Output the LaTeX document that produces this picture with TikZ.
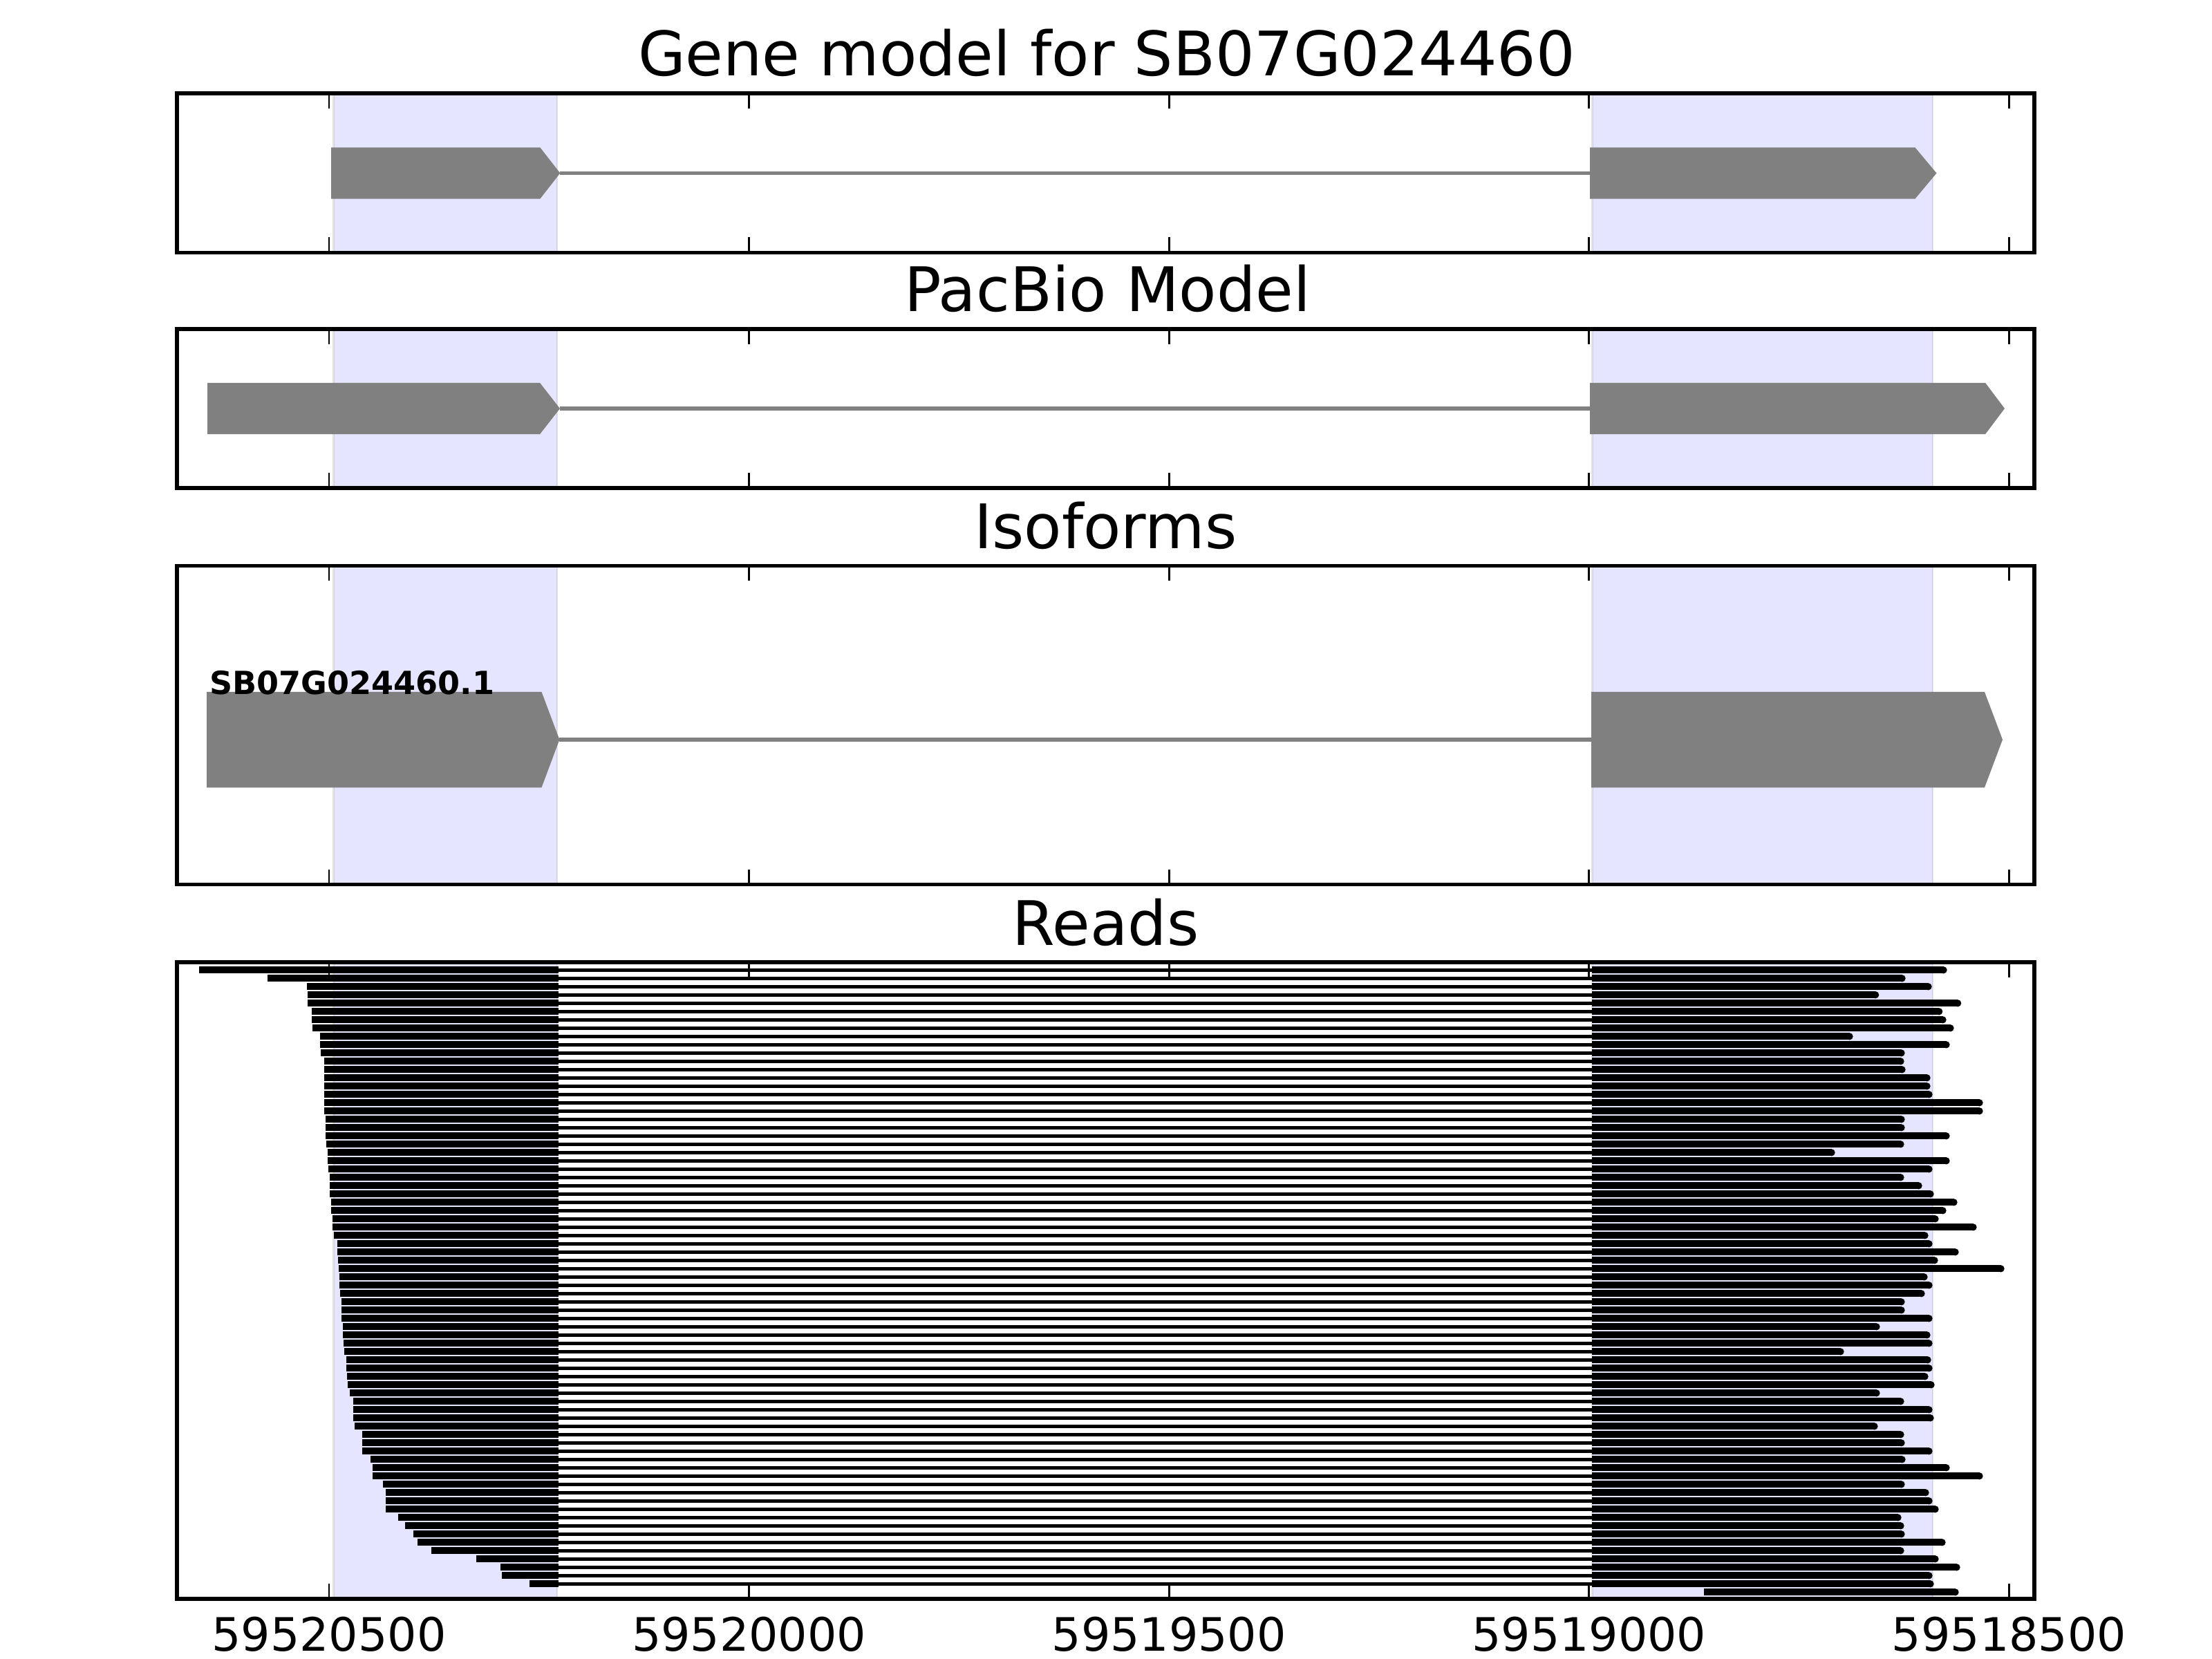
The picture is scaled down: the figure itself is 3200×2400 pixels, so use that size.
\documentclass[tikz,border=0pt]{standalone}
\usepackage{fontspec}
\setmainfont{DejaVu Sans}
\definecolor{genegray}{RGB}{128,128,128}
\definecolor{spanblue}{RGB}{229,229,255}
\def\px{0.180675pt}
\begin{document}
\begin{tikzpicture}[x=0.0025in,y=-0.0025in,
  spanfill/.style={fill=spanblue},
  spanedge/.style={draw=black,draw opacity=0.1,line width=2.8*\px},
  frameline/.style={draw=black,line width=5.5*\px},
  tickline/.style={draw=black,line width=2.8*\px},
  genefill/.style={fill=genegray},
  readfill/.style={fill=black},
  paneltitle/.style={anchor=base,inner sep=0,font=\fontsize{16bp}{19bp}\selectfont},
  ticklab/.style={anchor=base,inner sep=0,font=\fontsize{12bp}{14bp}\selectfont},
  isolab/.style={anchor=base west,inner sep=0,font=\fontsize{8.3bp}{10bp}\selectfont\bfseries}]
\useasboundingbox (0,0) rectangle (3200,2400);
\fill[white] (0,0) rectangle (3200,2400);
% exon spans
\foreach \t/\b in {135/365.5,476/706,818.5/1279.5,1392/2313}{
  \fill[spanfill] (482.5,\t) rectangle (806,\b);
  \fill[spanfill] (2303.5,\t) rectangle (2796,\b);
  \draw[spanedge] (482.5,\t) -- (482.5,\b);
  \draw[spanedge] (806,\t) -- (806,\b);
  \draw[spanedge] (2303.5,\t) -- (2303.5,\b);
  \draw[spanedge] (2796,\t) -- (2796,\b);
}
% gene model
\fill[genefill] (810,247.7) rectangle (2300.2,253.3);
\fill[genefill] (479,213.3) -- (781.3,213.3) -- (810.3,250.5) -- (781.3,287.7) -- (479,287.7) -- cycle;
\fill[genefill] (2300.2,213.3) -- (2770.4,213.3) -- (2801.5,250.5) -- (2770.4,287.7) -- (2300.2,287.7) -- cycle;
% PacBio model
\fill[genefill] (810,588.2) rectangle (2300.2,593.8);
\fill[genefill] (300,553.8) -- (781,553.8) -- (810,591) -- (781,628.2) -- (300,628.2) -- cycle;
\fill[genefill] (2300.2,553.8) -- (2872,553.8) -- (2900,591) -- (2872,628.2) -- (2300.2,628.2) -- cycle;
% isoform
\fill[genefill] (809,1067.2) rectangle (2302,1072.8);
\fill[genefill] (299.2,1001) -- (783.5,1001) -- (809.4,1070) -- (783.5,1139.3) -- (299.2,1139.3) -- cycle;
\fill[genefill] (2302,1001) -- (2871,1001) -- (2897,1070) -- (2871,1139.3) -- (2302,1139.3) -- cycle;
\node[isolab] (isolabel) at (302,1004) {SB07G024460.1};
% reads
\foreach \s/\e [count=\i] in {288.3/2816.7,387/2756.7,444.3/2794.7,445.3/2718.3,445.3/2837.3,451.3/2810.3,451.3/2815.7,452.3/2826.7,463.3/2680.7,463.3/2820.7,464.3/2755.7,469.3/2754.7,469.3/2756.7,469.3/2792.7,469.3/2792.7,469.3/2795.7,469.3/2868.7,469.3/2868.7,471.3/2755.7,471.3/2755.7,471.3/2820.7,472.3/2754.7,474.3/2654.7,474.3/2820.7,475.3/2795.7,477.3/2754.7,477.3/2780.7,477.3/2797.7,478.7/2831.7,479.3/2815.7,481.3/2804.7,481.3/2859.7,483.3/2789.7,488.3/2795.7,488.3/2833.7,489.3/2803.7,490.3/2899.7,491.3/2788.7,491/2795.7,492.3/2784.7,494/2755.7,494/2755.7,494/2795.7,496.3/2719.7,496.3/2792.7,497.3/2795.7,498.3/2667.7,501.3/2793.7,501.3/2795.7,502.3/2789.7,503.3/2798.7,506.3/2719.7,511.3/2754.7,511.3/2795.7,511.3/2797.7,513.3/2716.7,524.3/2754.7,524.3/2755.7,524.3/2795.7,536.3/2756.7,539.3/2820.7,539.3/2868.7,554.3/2755.7,558.3/2790.7,558.3/2795.7,558.3/2804.7,576.3/2750.7,586.3/2754.7,598.3/2755.7,604.3/2814.7,624.3/2754.7,689.3/2804.7,724.3/2835.7,726.3/2795.7,766.3/2797.7}{
  \pgfmathsetmacro\yy{1403.3+12*(\i-1)}
  \fill[readfill] (\s,\yy-5.15) rectangle (807.7,\yy+5.15);
  \fill[readfill] (807.7,\yy-2.25) rectangle (2302.6,\yy+2.25);
  \fill[readfill] (2302.6,\yy-5.15) rectangle (\e-5.15,\yy+5.15);
  \fill[readfill] (\e-5.15,\yy) circle (5.15);
}
\fill[readfill] (2464.8,2298.15) rectangle (2828.55,2308.45);
\fill[readfill] (2828.55,2303.3) circle (5.15);
% frames and ticks
\foreach \t/\b in {135/365.5,476/706,818.5/1279.5,1392/2313}{
  \foreach \x in {476,1083.6,1691.2,2298.8,2906.4}{
    \draw[tickline] (\x,\t) -- (\x,\t+22);
    \draw[tickline] (\x,\b) -- (\x,\b-22);
  }
  \draw[frameline] (256,\t) rectangle (2943,\b);
}
% titles
\node[paneltitle] (title1) at (1601,110) {Gene model for SB07G024460};
\node[paneltitle] (title2) at (1602,451) {PacBio Model};
\node[paneltitle] (title3) at (1599.5,793.5) {Isoforms};
\node[paneltitle] (title4) at (1599.5,1367) {Reads};
% tick labels
\node[ticklab] (lab1) at (476,2388) {59520500};
\node[ticklab] (lab2) at (1083.6,2388) {59520000};
\node[ticklab] (lab3) at (1691.2,2388) {59519500};
\node[ticklab] (lab4) at (2298.8,2388) {59519000};
\node[ticklab] (lab5) at (2906.4,2388) {59518500};
\end{tikzpicture}
\end{document}
